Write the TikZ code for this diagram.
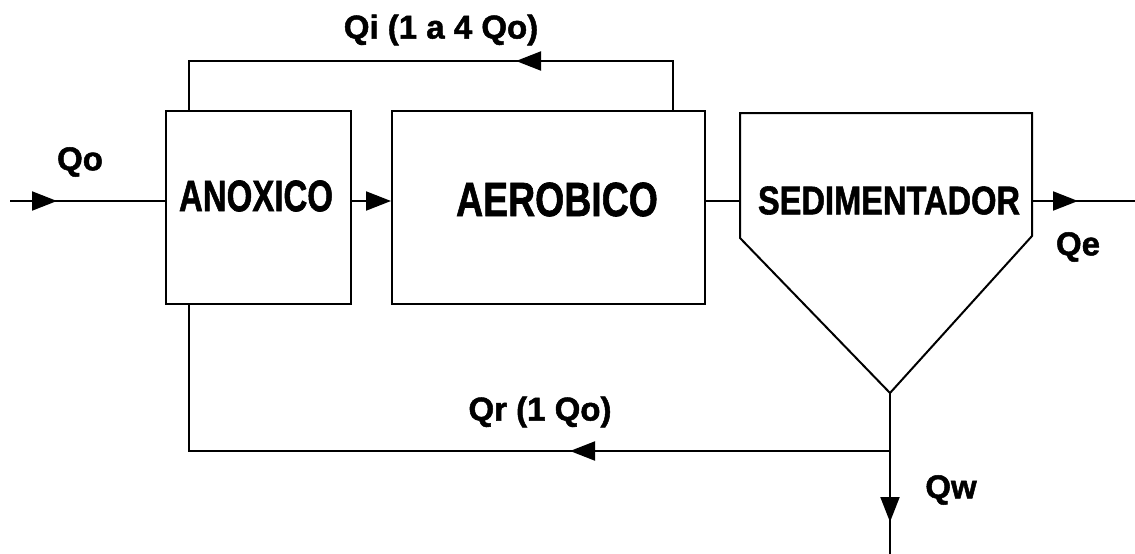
\documentclass[tikz,border=0pt]{standalone}
\usepackage{fontspec}
\setmainfont{Liberation Sans}[BoldFeatures={FakeBold=1.5}]
\usetikzlibrary{arrows.meta,decorations.markings}
\tikzset{
  flow/.style={line width=2pt, line join=miter},
  tank/.style={draw, line width=2pt, minimum width=#1, inner sep=0pt},
  lbl/.style={font=\fontsize{33}{33}\selectfont\bfseries, inner sep=0pt},
  tanktext/.style={inner sep=0pt},
  tip/.style={-{Triangle[length=25pt,width=19pt]}},
  midtip/.style={postaction={decorate}, decoration={markings,
     mark=at position #1 with {\arrow{Triangle[length=25pt,width=19pt]}}}}
}
\begin{document}
\begin{tikzpicture}[x=1pt,y=-1pt]
\useasboundingbox (0,0) rectangle (1135,554);
% tanks
\node[tank=185pt, minimum height=193pt] (anox) at (258.5,207.5) {};
\node[tank=313pt, minimum height=193pt] (aero) at (548.5,207.5) {};
\coordinate (sedTL) at (740,113);
\coordinate (sedTR) at (1032,113);
\coordinate (sedR) at (1032,236);
\coordinate (apex) at (890,393);
\coordinate (sedL) at (740,238);
\draw[flow] (sedTL) -- (sedTR) -- (sedR) -- (apex) -- (sedL) -- cycle;
% tank texts
\node[tanktext] (anoxt) at (256,196) {\scalebox{0.75}[1]{\fontsize{44}{44}\selectfont\bfseries ANOXICO}};
\node[tanktext] (aerot) at (557,199.5) {\scalebox{0.78}[1]{\fontsize{48}{48}\selectfont\bfseries AEROBICO}};
\node[tanktext] (sedt) at (889,200.5) {\scalebox{0.815}[1]{\fontsize{40}{40}\selectfont\bfseries SEDIMENTADOR}};
% coordinates
\coordinate (y0) at (0,201);
\coordinate (in) at (10,201);
\coordinate (out) at (1135,201);
\coordinate (qiR) at (673,61);
\coordinate (qiL) at (189,61);
\coordinate (jn) at (890,451);
\coordinate (qrL) at (189,451);
\coordinate (wout) at (890,554);
% connectors
\draw[flow, midtip=47pt] (in) -- (in -| anox.west);
\draw[flow, tip] (anox.east |- y0) -- (aero.west |- y0);
\draw[flow] (aero.east |- y0) -- (sedTL |- y0);
\draw[flow, midtip=46pt] (sedTR |- y0) -- (out);
\draw[flow, midtip=206pt] (qiR |- aero.north) -- (qiR) -- (qiL) -- (qiL |- anox.north);
\draw[flow, midtip=378pt] (apex) -- (jn) -- (qrL) -- (qrL |- anox.south);
\draw[flow, midtip=71pt] (jn) -- (wout);
% labels
\node[lbl] (lqi) at (441,30) {Qi (1 a 4 Qo)};
\node[lbl] (lqo) at (80,162) {Qo};
\node[lbl] (lqe) at (1078,247) {Qe};
\node[lbl] (lqr) at (540,412) {Qr (1 Qo)};
\node[lbl] (lqw) at (951,490) {Qw};
\end{tikzpicture}
\end{document}
